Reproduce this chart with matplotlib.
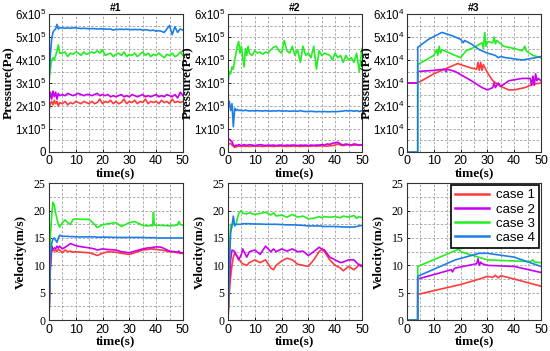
import matplotlib
matplotlib.use("Agg")
import matplotlib.pyplot as plt
from matplotlib.ticker import MultipleLocator

plt.rcParams['mathtext.fontset'] = 'custom'
plt.rcParams['mathtext.rm'] = 'Liberation Sans'
plt.rcParams['mathtext.it'] = 'Liberation Sans'

labels = ['case 1', 'case 2', 'case 3', 'case 4']
colors = ['#ff3b3b', '#c800f0', '#22ee22', '#1e7ee8']

# ---------- Panel #1 pressure (x1e5 Pa) ----------
p1_t = [0, 0.5, 1, 1.5, 2, 2.5, 3, 3.5, 4, 5, 6, 7, 8, 9, 10, 11, 12, 13, 14, 15, 16, 17, 18, 19, 20,
        21, 22, 23, 24, 25, 26, 27, 28, 29, 30, 31, 32, 33, 34, 35, 36, 37, 38, 39, 40, 41, 42, 43,
        44, 45, 46, 47, 48, 49, 50]
p1_case1 = [1.8, 2.1, 2.2, 2.05, 2.25, 2.1, 2.2, 2.0, 2.15, 2.1, 2.2, 2.05, 2.15, 2.1, 2.2, 2.15, 2.1,
            2.2, 2.15, 2.1, 2.2, 2.1, 2.15, 2.3, 2.1, 2.2, 2.15, 2.25, 2.1, 2.2, 2.1, 2.15, 2.3, 2.1,
            2.2, 2.15, 2.25, 2.1, 2.2, 2.15, 2.3, 2.1, 2.2, 2.15, 2.2, 2.1, 2.25, 2.15, 2.2, 2.1, 2.3,
            2.15, 2.2, 2.15, 2.2]
p1_case2 = [2.2, 2.6, 2.3, 2.65, 2.4, 2.6, 2.3, 2.55, 2.45, 2.5, 2.45, 2.55, 2.5, 2.45, 2.5, 2.55, 2.5,
            2.45, 2.5, 2.5, 2.45, 2.5, 2.55, 2.45, 2.5, 2.45, 2.5, 2.4, 2.45, 2.4, 2.45, 2.5, 2.4, 2.45,
            2.4, 2.5, 2.45, 2.4, 2.45, 2.5, 2.4, 2.45, 2.4, 2.45, 2.5, 2.4, 2.45, 2.4, 2.5, 2.45, 2.4,
            2.5, 2.35, 2.6, 2.45]
p1_case3 = [3.0, 3.6, 4.0, 4.1, 4.0, 4.2, 4.4, 4.65, 4.3, 4.3, 4.35, 4.15, 4.3, 4.25, 4.35, 4.3, 4.2,
            4.35, 4.25, 4.3, 4.35, 4.3, 4.4, 4.3, 4.45, 4.2, 4.25, 4.3, 4.15, 4.25, 4.3, 4.2, 4.35, 4.15,
            4.25, 4.2, 4.3, 4.15, 4.25, 4.35, 4.2, 4.3, 4.15, 4.25, 4.2, 4.3, 4.2, 4.1, 4.25, 4.2, 4.3,
            4.15, 4.2, 4.35, 4.2]
p1_case4 = [3.1, 4.2, 4.9, 5.2, 5.3, 5.35, 5.55, 5.35, 5.4, 5.4, 5.38, 5.4, 5.38, 5.4, 5.4, 5.38, 5.37,
            5.38, 5.37, 5.36, 5.37, 5.36, 5.35, 5.36, 5.35, 5.35, 5.34, 5.35, 5.3, 5.34, 5.33, 5.34,
            5.33, 5.34, 5.33, 5.32, 5.33, 5.32, 5.33, 5.3, 5.32, 5.3, 5.28, 5.3, 5.25, 5.28, 5.25, 5.2,
            5.35, 5.5, 5.1, 5.45, 5.2, 5.35, 5.3]

# ---------- Panel #2 pressure (x1e5 Pa) ----------
p2_t = [0, 0.5, 1, 1.5, 2, 2.5, 3, 3.5, 4, 4.5, 5, 5.5, 6, 6.5, 7, 7.5, 8, 9, 10, 11, 12, 13, 14, 15,
        16, 17, 18, 19, 20, 21, 22, 23, 24, 25, 26, 27, 28, 29, 30, 31, 32, 33, 34, 35, 36, 37, 38,
        39, 40, 41, 42, 43, 44, 45, 46, 47, 48, 49, 50]
p2_case1 = [0.4, 0.35, 0.38, 0.3, 0.25, 0.2, 0.22, 0.25, 0.25, 0.24, 0.25, 0.26, 0.25, 0.24, 0.25,
            0.25, 0.24, 0.25, 0.26, 0.25, 0.25, 0.24, 0.25, 0.26, 0.25, 0.24, 0.25, 0.25, 0.26, 0.25,
            0.24, 0.25, 0.25, 0.26, 0.25, 0.24, 0.25, 0.25, 0.26, 0.25, 0.27, 0.25, 0.26, 0.27, 0.26,
            0.25, 0.27, 0.28, 0.3, 0.35, 0.3, 0.28, 0.3, 0.32, 0.28, 0.3, 0.3, 0.29, 0.3]
p2_case2 = [0.6, 0.55, 0.5, 0.45, 0.3, 0.25, 0.3, 0.28, 0.32, 0.3, 0.28, 0.3, 0.32, 0.3, 0.29, 0.3,
            0.32, 0.3, 0.28, 0.3, 0.32, 0.3, 0.28, 0.3, 0.29, 0.3, 0.28, 0.3, 0.3, 0.28, 0.3, 0.29,
            0.3, 0.3, 0.28, 0.3, 0.29, 0.3, 0.28, 0.3, 0.29, 0.3, 0.3, 0.32, 0.3, 0.35, 0.33, 0.38,
            0.4, 0.42, 0.35, 0.3, 0.35, 0.32, 0.3, 0.35, 0.33, 0.3, 0.32]
p2_case3 = [3.0, 3.5, 3.4, 3.7, 3.6, 4.0, 4.3, 4.6, 4.8, 4.3, 4.6, 4.1, 3.7, 4.5, 4.2, 4.6, 4.3, 4.2,
            4.4, 4.3, 4.35, 4.25, 4.35, 4.3, 4.45, 4.55, 4.6, 4.4, 4.3, 4.85, 4.4, 4.3, 4.6, 4.2,
            4.45, 3.9, 4.6, 4.2, 4.3, 4.1, 4.6, 3.6, 4.4, 4.2, 4.3, 4.25, 4.2, 4.0, 4.3, 4.1, 4.2,
            3.9, 4.2, 4.0, 4.1, 3.9, 4.3, 3.5, 4.5]
p2_case4 = [2.0, 2.2, 1.8, 2.1, 1.1, 1.9, 1.8, 1.85, 1.8, 1.82, 1.8, 1.8, 1.8, 1.82, 1.8, 1.8, 1.78,
            1.8, 1.78, 1.8, 1.79, 1.78, 1.8, 1.78, 1.78, 1.79, 1.78, 1.8, 1.78, 1.78, 1.79, 1.77,
            1.78, 1.78, 1.77, 1.8, 1.77, 1.76, 1.76, 1.77, 1.76, 1.75, 1.76, 1.75, 1.76, 1.75, 1.75,
            1.76, 1.75, 1.76, 1.77, 1.78, 1.8, 1.78, 1.8, 1.77, 1.8, 1.76, 1.8]

# ---------- Panel #3 pressure (x1e4 Pa) ----------
p3_t1 = [0, 4, 10, 19, 20, 24, 26, 26.5, 27, 27.5, 28, 28.5, 30, 32, 35, 38, 40, 44, 47, 50]
p3_case1 = [3.0, 3.0, 3.4, 3.85, 3.8, 3.65, 3.6, 3.9, 3.55, 3.9, 3.55, 3.8, 3.45, 3.1, 2.85, 2.7,
            2.7, 2.8, 2.95, 3.0]
p3_t2 = [0, 4, 4.01, 10, 14, 14.5, 15, 18, 24, 28, 30, 31, 32, 32.5, 33, 34, 35, 38, 43, 46, 46.5,
         47, 47.5, 48, 48.5, 49, 50]
p3_case2 = [3.0, 3.0, 3.5, 3.55, 3.6, 3.5, 3.6, 3.5, 3.1, 2.8, 2.7, 2.75, 2.8, 3.0, 2.8, 3.0, 2.85,
            3.1, 3.2, 3.2, 2.9, 3.3, 2.9, 3.4, 3.1, 3.2, 3.1]
p3_t3 = [4, 4.01, 10, 11, 11.5, 12, 12.5, 13, 15, 20, 22, 25, 28, 28.5, 29, 29.5, 30, 32, 32.5, 33,
         33.5, 36, 40, 43, 44, 44.5, 47, 50]
p3_case3 = [0, 3.8, 4.2, 4.45, 4.2, 4.6, 4.3, 4.45, 4.35, 4.1, 4.4, 4.55, 4.75, 4.5, 5.2, 4.6, 4.8,
            4.75, 5.0, 4.7, 4.85, 4.6, 4.5, 4.4, 4.6, 4.4, 4.2, 4.1]
p3_t4 = [0, 4, 4.01, 8, 13, 17, 20, 21, 21.5, 24, 27, 30, 33, 34, 35, 37, 40, 43, 48, 50]
p3_case4 = [0, 0, 4.55, 4.9, 5.2, 5.05, 4.9, 4.75, 4.85, 4.7, 4.45, 4.3, 4.2, 4.1, 4.15, 4.1, 4.05,
            4.0, 4.1, 4.15]

# ---------- Panel #1 velocity (m/s) ----------
v1_t = [0, 0.5, 1, 1.5, 2, 2.5, 3, 3.5, 4, 5, 6, 7, 8, 9, 10, 12, 15, 17, 18, 20, 22, 25, 27, 30, 32,
        35, 37, 38, 38.7, 39, 39.3, 40, 42, 45, 47, 48, 48.5, 49, 50]
v1_case1 = [0, 9, 12.5, 12.8, 12.6, 12.8, 12.5, 13.0, 12.8, 12.3, 12.8, 12.5, 12.6, 12.4, 12.5, 12.4,
            12.3, 12.0, 11.8, 12.2, 12.5, 12.4, 12.2, 12.0, 12.3, 12.8, 12.9, 13.0, 13.0, 12.9, 13.0,
            12.9, 12.8, 12.5, 12.4, 12.3, 12.3, 12.2, 12.2]
v1_case2 = [0, 10, 13.5, 12.8, 13.2, 13.0, 13.5, 13.2, 13.5, 13.0, 13.3, 13.6, 14.0, 13.8, 13.6,
            13.4, 13.2, 13.0, 12.8, 13.0, 12.9, 12.8, 12.5, 12.3, 12.6, 13.0, 13.2, 13.2, 13.3, 13.3,
            13.3, 13.4, 13.3, 12.6, 12.5, 12.4, 12.6, 12.3, 12.3]
v1_case3 = [0, 15, 19, 21.5, 21.0, 19.5, 18.5, 17.5, 17.0, 17.8, 18.3, 17.8, 17.5, 18.4, 18.5, 18.4,
            18.4, 17.5, 16.9, 17.4, 17.6, 17.8, 17.1, 17.8, 18.0, 17.3, 17.2, 17.3, 17.2, 19.7, 17.4,
            17.3, 17.3, 17.2, 17.3, 17.4, 18.0, 17.5, 17.3]
v1_case4 = [0, 11, 14.0, 14.8, 15.0, 14.6, 14.2, 15.0, 15.5, 15.3, 15.3, 15.3, 15.25, 15.25, 15.2,
            15.2, 15.2, 15.2, 15.15, 15.15, 15.15, 15.1, 15.1, 15.1, 15.1, 15.1, 15.05, 15.05, 15.05,
            15.05, 15.05, 15.0, 15.0, 15.0, 15.0, 15.0, 15.0, 15.0, 15.0]

# ---------- Panel #2 velocity (m/s) ----------
v2_t = [0, 0.5, 1, 1.5, 2, 2.5, 3, 4, 5, 5.5, 7, 8, 10, 12, 14, 16, 17, 18, 20, 22, 24, 26, 28, 30,
        32, 34, 35, 36, 38, 40, 42, 43, 45, 47, 48, 49, 50]
v2_case1 = [0, 5, 8, 10, 11.5, 12.2, 12.0, 11.2, 10.5, 10.3, 10.0, 10.5, 11.0, 10.5, 11.0, 9.5, 9.2,
            10.0, 10.8, 11.3, 11.0, 10.2, 10.0, 9.8, 11.0, 12.5, 12.9, 12.5, 11.0, 10.0, 9.5, 9.0,
            9.8, 9.2, 9.6, 10.2, 10.0]
v2_case2 = [0, 7, 11, 12.8, 12.7, 12.5, 12.0, 11.0, 12.0, 13.0, 11.5, 12.5, 12.8, 12.0, 13.5, 12.5,
            13.0, 12.5, 13.0, 12.6, 13.0, 12.5, 12.6, 11.8, 12.5, 13.3, 13.0, 12.8, 11.5, 11.0, 10.5,
            10.6, 11.0, 11.0, 10.5, 10.0, 9.8]
v2_case3 = [0, 12, 17.5, 17.3, 17.6, 17.5, 17.5, 19.5, 20.0, 19.5, 19.4, 19.6, 19.3, 19.5, 19.7,
            19.2, 19.6, 19.0, 19.2, 18.8, 19.3, 18.8, 19.0, 18.5, 18.6, 18.9, 18.7, 18.9, 18.8, 18.9,
            18.7, 19.0, 18.8, 19.1, 18.6, 18.9, 18.7]
v2_case4 = [0, 10, 16, 17.2, 19.0, 17.2, 17.5, 17.5, 17.5, 17.6, 17.6, 17.6, 17.55, 17.55, 17.5, 17.5,
            17.5, 17.5, 17.45, 17.4, 17.4, 17.35, 17.3, 17.2, 17.2, 17.2, 17.15, 17.1, 17.1, 17.1,
            17.05, 17.0, 17.0, 17.0, 17.1, 17.2, 17.3]

# ---------- Panel #3 velocity (m/s) ----------
v3_t1 = [0, 4, 4.01, 20, 27, 30, 32, 33, 34, 35, 36, 40, 50]
v3_case1 = [0, 0, 4.7, 6.5, 7.5, 8.0, 7.8, 8.2, 7.7, 8.1, 8.0, 7.5, 6.2]
v3_t2 = [0, 4, 4.01, 16.5, 17, 17.5, 18, 26, 26.5, 27, 27.5, 28, 30, 40, 50]
v3_case2 = [0, 0, 7.5, 9.2, 8.8, 9.3, 9.5, 10.3, 11.2, 10.0, 10.6, 10.3, 10.0, 9.8, 8.7]
v3_t3 = [0, 4, 4.01, 19.5, 20, 26, 30, 40, 46, 47, 47.5, 50]
v3_case3 = [0, 0, 9.8, 13.0, 12.5, 11.6, 11.0, 10.8, 10.7, 11.0, 10.6, 10.5]
v3_t4 = [0, 4, 4.01, 18, 27, 30, 40, 50]
v3_case4 = [0, 0, 8.0, 11.0, 12.2, 12.2, 11.5, 9.8]

titles = ['#1', '#2', '#3']

fig = plt.figure(figsize=(5.5, 3.51), dpi=100)
lefts = [0.089, 0.4145, 0.74]
W = 0.2436
axes_top = [fig.add_axes([l, 0.567, W, 0.393]) for l in lefts]
axes_bot = [fig.add_axes([l, 0.088, W, 0.39]) for l in lefts]

pressure = [
    [(p1_t, p1_case1), (p1_t, p1_case2), (p1_t, p1_case3), (p1_t, p1_case4)],
    [(p2_t, p2_case1), (p2_t, p2_case2), (p2_t, p2_case3), (p2_t, p2_case4)],
    [(p3_t1, p3_case1), (p3_t2, p3_case2), (p3_t3, p3_case3), (p3_t4, p3_case4)],
]
velocity = [
    [(v1_t, v1_case1), (v1_t, v1_case2), (v1_t, v1_case3), (v1_t, v1_case4)],
    [(v2_t, v2_case1), (v2_t, v2_case2), (v2_t, v2_case3), (v2_t, v2_case4)],
    [(v3_t1, v3_case1), (v3_t2, v3_case2), (v3_t3, v3_case3), (v3_t4, v3_case4)],
]
exps = [5, 5, 4]

def style(ax):
    ax.set_xlim(0, 50)
    ax.xaxis.set_major_locator(MultipleLocator(10))
    ax.xaxis.set_minor_locator(MultipleLocator(5))
    ax.grid(True, which='both', linestyle=(0, (3, 2)), color='#a0a0a0', linewidth=0.6)
    ax.tick_params(which='both', direction='in', length=2.5, width=0.6, pad=2.2)
    ax.tick_params(axis='x', pad=2.5)
    ax.tick_params(which='minor', length=0)
    for s in ax.spines.values():
        s.set_linewidth(0.8)
        s.set_color('#333333')
    for lab in ax.get_xticklabels():
        lab.set_fontfamily('Liberation Sans')
        lab.set_fontsize(9)
    ax.set_xlabel('time(s)', fontfamily='Liberation Serif', fontweight='bold', fontsize=9.5,
                  labelpad=0)

for i, ax in enumerate(axes_top):
    for (t, y), c in zip(pressure[i], colors):
        ax.plot(t, y, color=c, lw=1.2)
    ax.set_ylim(0, 6)
    ax.yaxis.set_minor_locator(MultipleLocator(0.5))
    e = exps[i]
    ax.set_yticks(range(7))
    ax.set_yticklabels(['0'] + ['%dx10$^{%d}$' % (k, e) for k in range(1, 7)])
    for lab in ax.get_yticklabels():
        lab.set_fontsize(8.3)
        lab.set_fontfamily('Liberation Sans')
    style(ax)
    ax.set_title(titles[i], fontsize=7.5, fontweight='bold', fontfamily='Liberation Sans', pad=2)
    ax.set_ylabel('Pressure(Pa)', fontfamily='Liberation Serif', fontweight='bold', fontsize=9.5,
                  labelpad=0)

for i, ax in enumerate(axes_bot):
    for (t, y), c, lb in zip(velocity[i], colors, labels):
        ax.plot(t, y, color=c, lw=1.2, label=lb)
    ax.set_ylim(0, 25)
    ax.yaxis.set_major_locator(MultipleLocator(5))
    ax.yaxis.set_minor_locator(MultipleLocator(2.5))
    style(ax)
    ax.tick_params(axis='y', pad=2.5)
    for lab in ax.get_yticklabels():
        lab.set_fontfamily('Liberation Serif')
        lab.set_fontsize(8.5)
    ax.set_ylabel('Velocity(m/s)', fontfamily='Liberation Serif', fontweight='bold', fontsize=9.5,
                  labelpad=5)

leg = axes_bot[2].legend(loc='upper right', frameon=True, fancybox=False,
                         edgecolor='black', framealpha=1, borderpad=0.3, labelspacing=0.15,
                         handlelength=2.6, handletextpad=0.5, borderaxespad=0.15,
                         prop={'family': 'Liberation Sans', 'size': 9.5})
leg.get_frame().set_linewidth(1.2)
for h in leg.get_lines():
    h.set_linewidth(1.8)

fig.savefig('out.png', dpi=100)
